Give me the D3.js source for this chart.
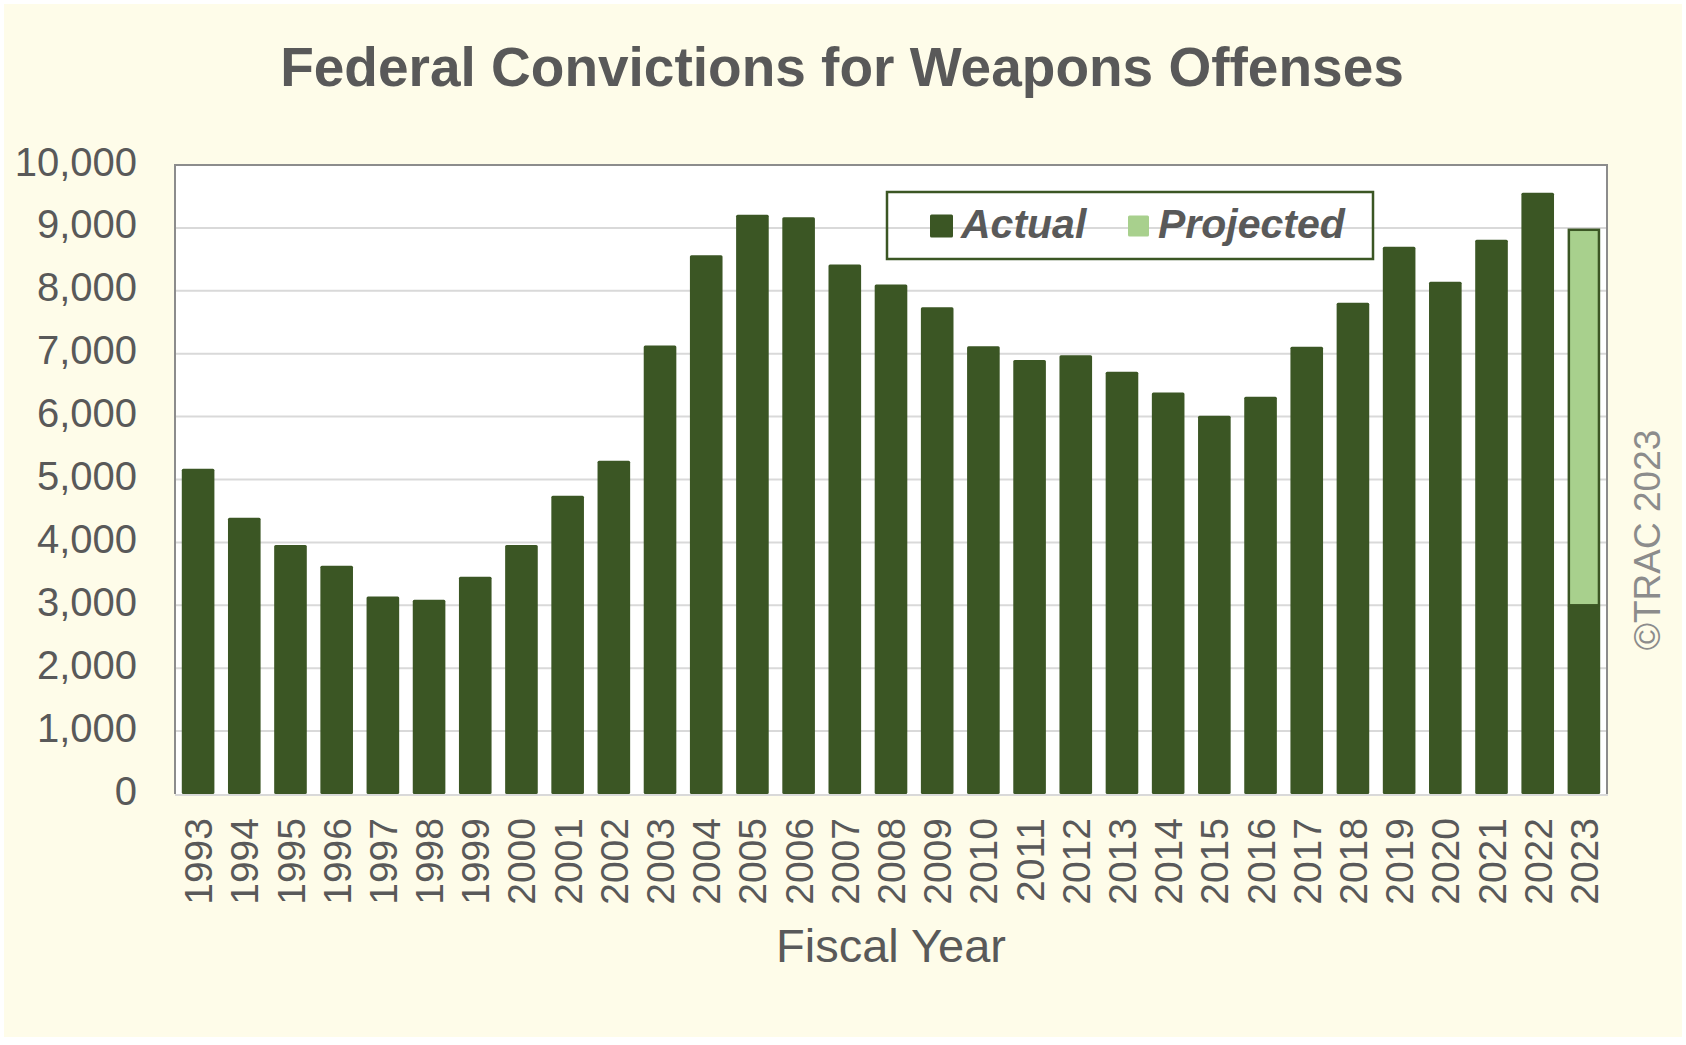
<!DOCTYPE html>
<html>
<head>
<meta charset="utf-8">
<script src="https://cdn.jsdelivr.net/npm/d3@7"></script>
<style>
  html, body { margin: 0; padding: 0; background: #ffffff; }
  svg { display: block; }
  text { font-family: "Liberation Sans", Arial, Helvetica, sans-serif; }
</style>
</head>
<body>
<svg id="chart" width="1686" height="1045"></svg>
<script>
// ---- Data ----
const years = ["1993","1994","1995","1996","1997","1998","1999","2000","2001","2002",
  "2003","2004","2005","2006","2007","2008","2009","2010","2011","2012",
  "2013","2014","2015","2016","2017","2018","2019","2020","2021","2022","2023"];
const actual = [5170,4390,3960,3630,3140,3090,3455,3960,4740,5300,
  7130,8565,9210,9170,8420,8100,7740,7120,6900,6975,
  6715,6385,6015,6315,7110,7810,8700,8145,8810,9560,3000];
const projected = [0,0,0,0,0,0,0,0,0,0,
  0,0,0,0,0,0,0,0,0,0,
  0,0,0,0,0,0,0,0,0,0,5990];
const yTicks = [0,1000,2000,3000,4000,5000,6000,7000,8000,9000,10000];
const seriesNames = ["Actual","Projected"];
const titleText = "Federal Convictions for Weapons Offenses";
const xTitle = "Fiscal Year";
const credit = "\u00A9TRAC 2023";

// ---- Layout ----
const W = 1686, H = 1045;
const plot = { left: 175, top: 165, right: 1607, bottom: 794 };
const colors = { actual: "#3b5624", projected: "#a8d08d", text: "#595959", grid: "#d9d9d9", border: "#8c8c8c", bg: "#fefce9" };

const svg = d3.select("#chart");

svg.append("rect").attr("x", 4).attr("y", 4).attr("width", W - 8).attr("height", H - 12)
  .attr("fill", colors.bg);

const x = d3.scaleBand().domain(years).range([plot.left, plot.right]).paddingInner(0.294).paddingOuter(0.147);
const y = d3.scaleLinear().domain([0, 10000]).range([plot.bottom, plot.top]);

// plot background
svg.append("rect").attr("x", plot.left).attr("y", plot.top)
  .attr("width", plot.right - plot.left).attr("height", plot.bottom - plot.top).attr("fill", "#ffffff");

// gridlines
svg.append("g").selectAll("line").data(yTicks.filter(d => d > 0 && d < 10000)).join("line")
  .attr("x1", plot.left).attr("x2", plot.right)
  .attr("y1", d => y(d)).attr("y2", d => y(d))
  .attr("stroke", colors.grid).attr("stroke-width", 2);

// stacked data
const table = years.map((yr, i) => ({ year: yr, Actual: actual[i], Projected: projected[i] }));
const stack = d3.stack().keys(seriesNames)(table);

// Actual bars
svg.append("g").selectAll("rect").data(stack[0]).join("rect")
  .attr("x", d => x(d.data.year)).attr("width", x.bandwidth())
  .attr("y", d => y(d[1])).attr("height", d => y(d[0]) - y(d[1]))
  .attr("rx", 1.5)
  .attr("fill", colors.actual);

// Projected bars
svg.append("g").selectAll("rect").data(stack[1].filter(d => d[1] > d[0])).join("rect")
  .attr("x", d => x(d.data.year) + 1.25).attr("width", x.bandwidth() - 2.5)
  .attr("y", d => y(d[1]) + 1.25).attr("height", d => y(d[0]) - y(d[1]) - 1.25)
  .attr("fill", colors.projected)
  .attr("stroke", colors.actual).attr("stroke-width", 2.5);

// plot border (left, top, right) and bottom axis line
svg.append("path")
  .attr("d", `M${plot.left},${plot.bottom} V${plot.top} H${plot.right} V${plot.bottom}`)
  .attr("fill", "none").attr("stroke", colors.border).attr("stroke-width", 2);
svg.append("line").attr("x1", plot.left).attr("x2", plot.right + 1)
  .attr("y1", plot.bottom + 1).attr("y2", plot.bottom + 1)
  .attr("stroke", colors.grid).attr("stroke-width", 2);

// Y axis labels
const yAxis = d3.axisLeft(y).tickValues(yTicks).tickSize(0).tickPadding(0)
  .tickFormat(d3.format(","));
const gy = svg.append("g").attr("transform", `translate(137,0)`).call(yAxis);
gy.select(".domain").remove();
gy.selectAll("text").attr("font-size", 40).attr("fill", colors.text)
  .attr("font-family", "'Liberation Sans', Arial, sans-serif")
  .attr("dy", "0.25em");

// X axis labels
const xAxis = d3.axisBottom(x).tickSize(0).tickPadding(0);
const gx = svg.append("g").attr("transform", `translate(0,${plot.bottom})`).call(xAxis);
gx.select(".domain").remove();
gx.selectAll("text").attr("font-size", 39).attr("fill", colors.text)
  .attr("font-family", "'Liberation Sans', Arial, sans-serif")
  .attr("text-anchor", "end")
  .attr("transform", "rotate(-90)")
  .attr("x", -24).attr("y", 0).attr("dy", "0.36em");

// Title
svg.append("text").attr("x", 842).attr("y", 86).attr("text-anchor", "middle")
  .attr("font-size", 55).attr("font-weight", "bold").attr("fill", colors.text)
  .text(titleText);

// X axis title
svg.append("text").attr("x", 891).attr("y", 962).attr("text-anchor", "middle")
  .attr("font-size", 47).attr("fill", colors.text).text(xTitle);

// Credit
svg.append("text").attr("transform", "translate(1660,540) rotate(-90)")
  .attr("text-anchor", "middle").attr("font-size", 37).attr("fill", "#8c8c8c")
  .text(credit);

// Legend
const legend = svg.append("g");
legend.append("rect").attr("x", 887).attr("y", 192).attr("width", 486).attr("height", 67)
  .attr("fill", "none").attr("stroke", colors.actual).attr("stroke-width", 2.5);
const legendItems = [
  { name: seriesNames[0], color: colors.actual, sx: 930, size: 23, tx: 961 },
  { name: seriesNames[1], color: colors.projected, sx: 1128, size: 21, tx: 1158 }
];
legendItems.forEach(it => {
  legend.append("rect").attr("x", it.sx).attr("y", 226 - it.size / 2)
    .attr("width", it.size).attr("height", it.size).attr("rx", 1.5).attr("fill", it.color);
  legend.append("text").attr("x", it.tx).attr("y", 238)
    .attr("font-size", 41).attr("font-weight", "bold").attr("font-style", "italic")
    .attr("fill", colors.text).text(it.name);
});
</script>
</body>
</html>
